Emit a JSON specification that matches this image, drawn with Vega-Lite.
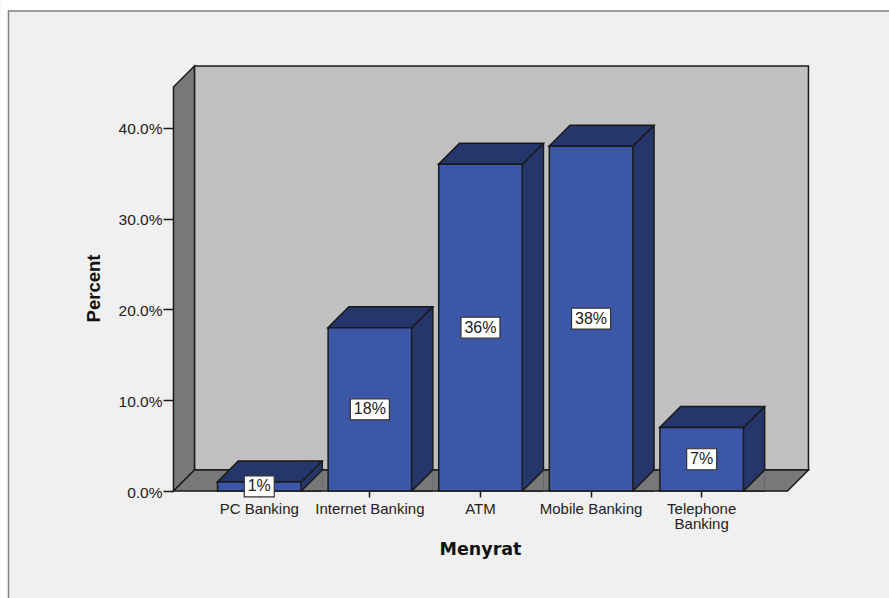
{
  "$schema": "https://vega.github.io/schema/vega-lite/v6.json",
  "autosize": {"type": "none"},
  "padding": {"left": 173, "top": 66, "right": 81, "bottom": 107},
  "width": 635,
  "height": 425,
  "background": "#f0f0f0",
  "view": {"stroke": null},
  "config": {"font": "Liberation Sans"},
  "datasets": {
    "usage": [
      {"category": "PC Banking", "value": 0.01},
      {"category": "Internet Banking", "value": 0.18},
      {"category": "ATM", "value": 0.36},
      {"category": "Mobile Banking", "value": 0.38},
      {"category": "Telephone Banking", "value": 0.07}
    ],
    "origin": [
      {"category": "ATM", "value": 0}
    ]
  },
  "encoding": {
    "x": {
      "field": "category",
      "type": "nominal",
      "sort": null,
      "title": "Menyrat",
      "scale": {
        "domain": ["PC Banking", "Internet Banking", "ATM", "Mobile Banking", "Telephone Banking"],
        "paddingInner": 0.245,
        "paddingOuter": 0.4933,
        "align": 0.408
      },
      "axis": {
        "labelAngle": 0,
        "labelExpr": "datum.value == 'Telephone Banking' ? ['Telephone', 'Banking'] : datum.value",
        "labelFontSize": 15,
        "labelColor": "#222222",
        "labelLineHeight": 15.5,
        "labelPadding": 4,
        "labelLimit": 200,
        "domain": false,
        "grid": false,
        "tickColor": "#1a1a1a",
        "tickWidth": 1.5,
        "tickSize": 6,
        "titleFont": "DejaVu Sans",
        "titleFontWeight": "bold",
        "titleFontSize": 17.5,
        "titleColor": "#111111",
        "titleX": 307,
        "titleY": 58,
        "titleBaseline": "middle",
        "titleAlign": "center"
      }
    }
  },
  "layer": [
    {
      "data": {"name": "usage"},
      "encoding": {
        "y": {
          "field": "value",
          "type": "quantitative",
          "title": "Percent",
          "scale": {"domain": [0, 0.4683], "nice": false},
          "axis": {
            "values": [0, 0.1, 0.2, 0.3, 0.4],
            "format": ".1%",
            "labelFontSize": 15.5,
            "labelColor": "#222222",
            "labelPadding": 1,
            "labelOffset": 1,
            "domain": false,
            "grid": false,
            "tickColor": "#1a1a1a",
            "tickWidth": 1.5,
            "tickSize": 10,
            "titleFont": "Liberation Sans",
            "titleFontWeight": "bold",
            "titleFontSize": 18.5,
            "titleColor": "#111111",
            "titleAngle": -90,
            "titleX": -80,
            "titleY": 222,
            "titleBaseline": "middle",
            "titleAlign": "center"
          }
        }
      },
      "layer": [
        {
          "data": {"name": "origin"},
          "mark": {"type": "point", "shape": "M-480 -491L409 -491L409 -480L-472 -480L-472 107L-480 107Z", "size": 4, "filled": true, "fill": "#ffffff", "strokeWidth": 0, "opacity": 1}
        },
        {
          "data": {"name": "origin"},
          "mark": {"type": "point", "shape": "M-472 107L-472 -480L409 -480", "size": 4, "filled": false, "fill": null, "stroke": "#808080", "strokeWidth": 1.5, "opacity": 1}
        },
        {
          "data": {"name": "origin"},
          "mark": {"type": "point", "shape": "M-286 -425L328 -425L328 -21L-286 -21Z", "size": 4, "filled": true, "fill": "#c0c0c0", "stroke": "#1a1a1a", "strokeWidth": 1.5, "opacity": 1}
        },
        {
          "data": {"name": "origin"},
          "mark": {"type": "point", "shape": "M-307 -404L-286 -425L-286 -21L-307 0Z", "size": 4, "filled": true, "fill": "#787878", "stroke": "#1a1a1a", "strokeWidth": 1.5, "opacity": 1}
        },
        {
          "data": {"name": "origin"},
          "mark": {"type": "point", "shape": "M-307 0L307 0L328 -21L-286 -21Z", "size": 4, "filled": true, "fill": "#787878", "stroke": "#1a1a1a", "strokeWidth": 1.5, "opacity": 1}
        },
        {
          "mark": {"type": "bar", "width": 21, "xOffset": 52.5, "yOffset": -21, "fill": "#25366b", "strokeWidth": 0, "opacity": 1},
          "encoding": {"y2": {"datum": 0}}
        },
        {
          "mark": {"type": "point", "shape": "M42 0L63 0L63 -21Z", "size": 4, "filled": true, "fill": "#787878", "strokeWidth": 0, "opacity": 1},
          "encoding": {"y": {"datum": 0}}
        },
        {
          "mark": {"type": "point", "shape": "M42 0L63 -21", "size": 4, "filled": false, "fill": null, "stroke": "#1a1a1a", "strokeWidth": 1.5, "opacity": 1},
          "encoding": {"y": {"datum": 0}}
        },
        {
          "mark": {"type": "point", "shape": "M42 0L63 0", "size": 4, "filled": false, "fill": null, "stroke": "#1a1a1a", "strokeWidth": 1.5, "opacity": 1},
          "encoding": {"y": {"datum": 0}}
        },
        {
          "mark": {"type": "rule", "xOffset": 63, "yOffset": -21, "y2Offset": -21, "stroke": "#1a1a1a", "strokeWidth": 1.5},
          "encoding": {"y2": {"datum": 0}}
        },
        {
          "mark": {"type": "point", "shape": "M-42 0L42 0L63 -21L-21 -21Z", "size": 4, "filled": true, "fill": "#25366b", "stroke": "#1a1a1a", "strokeWidth": 1.5, "opacity": 1}
        },
        {
          "mark": {"type": "bar", "fill": "#3d57a8", "stroke": "#1a1a1a", "strokeWidth": 1.5, "opacity": 1},
          "encoding": {"y2": {"datum": 0}}
        }
      ]
    },
    {
      "data": {"name": "usage"},
      "encoding": {
        "y": {
          "field": "value",
          "type": "quantitative",
          "scale": {"domain": [0, 0.9366], "nice": false},
          "axis": null
        }
      },
      "layer": [
        {
          "mark": {"type": "point", "size": 4, "filled": true, "fill": "#ffffff", "stroke": "#333333", "strokeWidth": 1.2, "opacity": 1},
          "encoding": {
            "shape": {
              "condition": {"test": "datum.value < 0.1", "value": "M-15 -10.5L15 -10.5L15 10.5L-15 10.5Z"},
              "value": "M-19.5 -10.5L19.5 -10.5L19.5 10.5L-19.5 10.5Z"
            }
          }
        },
        {
          "mark": {"type": "text", "fontSize": 16, "color": "#222222", "baseline": "middle", "align": "center"},
          "encoding": {"text": {"field": "value", "type": "quantitative", "format": ".0%"}}
        }
      ]
    }
  ],
  "resolve": {"scale": {"y": "independent"}}
}
